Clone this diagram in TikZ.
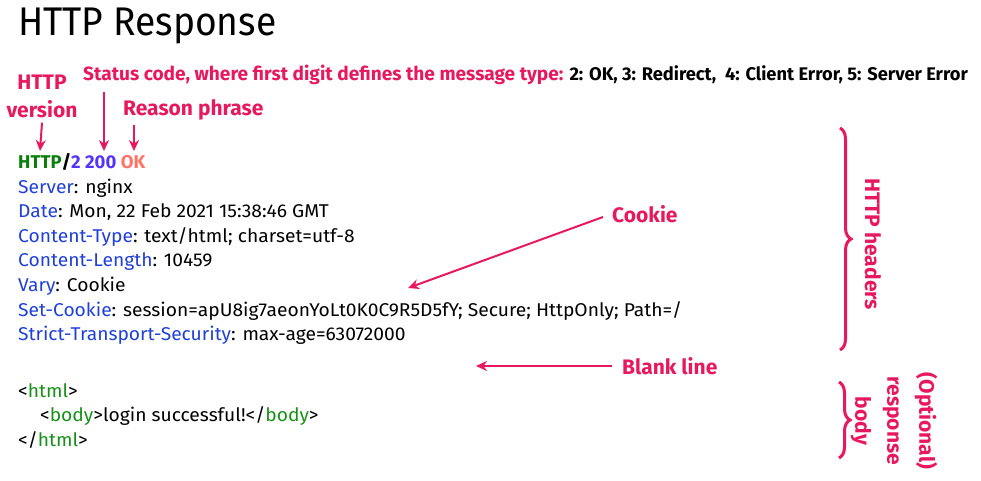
\documentclass[tikz,border=0pt]{standalone}
\usepackage{fontspec}
\setmainfont[FakeStretch=1.04]{Fira Sans}
\newfontfamily\labelfont{Fira Sans}
\newfontfamily\titlefont[FakeStretch=0.93]{Fira Sans}
\usetikzlibrary{arrows.meta,decorations.pathreplacing}

\definecolor{callout}{HTML}{E8185E}
\definecolor{hdrblue}{HTML}{1F3FD8}
\definecolor{vergreen}{HTML}{0A7F0A}
\definecolor{codeblue}{HTML}{5533FF}
\definecolor{okorange}{HTML}{FF7466}
\definecolor{taggreen}{HTML}{179117}

\newcommand{\hname}[1]{\textcolor{hdrblue}{#1}}
\newcommand{\tname}[1]{\textcolor{taggreen}{#1}}

\tikzset{
  note/.style={font=\labelfont\bfseries\fontsize{21}{28}\selectfont, text=callout, inner sep=0pt},
  codeline/.style={font=\fontsize{18.5}{20}\selectfont, anchor=base west, inner sep=0pt},
  pointer/.style={draw=callout, line width=2pt, -{Stealth[length=11pt,width=10pt]}},
  curly/.style={draw=callout, line width=3pt, decorate, decoration={brace, amplitude=11pt}},
}

\begin{document}
\begin{tikzpicture}[x=1pt, y=-1pt]
  \useasboundingbox (0,0) rectangle (981,480);
  % Title
  \node[anchor=base west, inner sep=0pt, font=\titlefont\fontsize{40}{44}\selectfont] (title) at (18,35) {HTTP Response};
  % Callout labels above the status line
  \node[note, anchor=base west, font=\labelfont\bfseries\fontsize{19.1}{24}\selectfont] (statuslbl) at (83,80)
    {Status code, where first digit defines the message type: \textcolor{black}{\fontsize{18.3}{24}\selectfont 2: OK, 3: Redirect,\ \ 4: Client Error, 5: Server Error}};
  \node[note, align=center] (verlbl) at (42,96) {HTTP\\version};
  \node[note, anchor=base west] (reasonlbl) at (123,115) {Reason phrase};
  % Status line
  \node[codeline, font=\labelfont\bfseries\fontsize{18.5}{20}\selectfont] (startline) at (18,168)
    {\textcolor{vergreen}{HTTP}/\textcolor{codeblue}{2 200} \textcolor{okorange}{OK}};
  \coordinate (vertip) at (40,151);
  \coordinate (codetip) at (104,151);
  \coordinate (reasontip) at (134,151);
  % Headers
  \node[codeline] (server) at (18,193) {\hname{Server}: nginx};
  \node[codeline] (date) at (18,217.5) {\hname{Date}: Mon, 22 Feb 2021 15:38:46 GMT};
  \node[codeline] (ctype) at (18,242) {\hname{Content-Type}: text/html; charset=utf-8};
  \node[codeline] (clen) at (18,266.5) {\hname{Content-Length}: 10459};
  \node[codeline] (vary) at (18,291) {\hname{Vary}: Cookie};
  \node[codeline] (setcookie) at (18,316) {\hname{Set-Cookie}: session=apU8ig7aeonYoLt0K0C9R5D5fY; Secure; HttpOnly; Path=/};
  \node[codeline] (hsts) at (18,340.5) {\hname{Strict-Transport-Security}: max-age=63072000};
  % Body
  \node[codeline] (htmlopen) at (18,397) {<\tname{html}>};
  \node[codeline] (bodyline) at (40,421.5) {<\tname{body}>login successful!</\tname{body}>};
  \node[codeline] (htmlclose) at (18,446) {</\tname{html}>};
  % Right-hand callouts
  \node[note, anchor=west] (cookielbl) at (612,214) {Cookie};
  \coordinate (cookietip) at (408,288);
  \node[note, anchor=west] (blanklbl) at (622,366) {Blank line};
  \coordinate (blanktip) at (476,366);
  % Arrows
  \draw[pointer] ([yshift=-5pt]verlbl.south) -- (vertip);
  \draw[pointer] (104,92) -- (codetip);
  \draw[pointer] (134,125) -- (reasontip);
  \draw[pointer] ([xshift=-9pt, yshift=-3pt]cookielbl.west) -- (cookietip);
  \draw[pointer] ([xshift=-10pt]blanklbl.west) -- (blanktip);
  % Braces
  \coordinate (hdrtop) at (840,128);
  \coordinate (hdrbot) at (840,350);
  \draw[curly] (hdrtop) -- (hdrbot);
  \node[note, rotate=-90] (hdrlbl) at (873,244) {HTTP headers};
  \coordinate (bodytop) at (839,382);
  \coordinate (bodybot) at (839,458);
  \draw[curly] (bodytop) -- (bodybot);
  \node[note, rotate=-90, align=center, font=\labelfont\bfseries\fontsize{21}{32}\selectfont] (bodylbl) at (894,421) {(Optional)\\response\\body};
\end{tikzpicture}
\end{document}
